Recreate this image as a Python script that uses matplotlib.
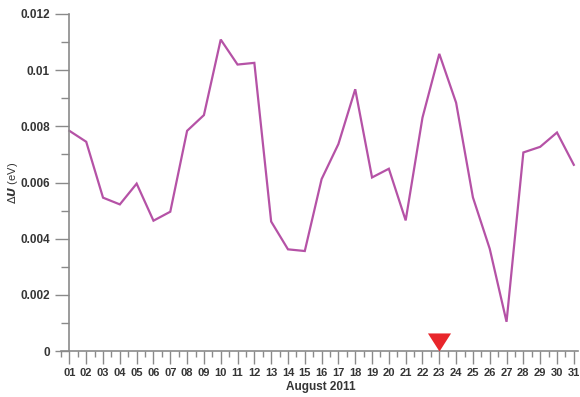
import matplotlib
matplotlib.use("Agg")
from matplotlib import pyplot as plt
from matplotlib.ticker import MultipleLocator
from matplotlib.path import Path

plt.rcParams['font.family'] = ['Liberation Sans', 'DejaVu Sans']

days = list(range(1, 32))
day_labels = ['%02d' % d for d in days]
delta_u = [0.00784, 0.00745, 0.00546, 0.00522, 0.00596, 0.00464, 0.00496, 0.00784,
           0.00840, 0.01109, 0.01020, 0.01026, 0.00461, 0.00362, 0.00356, 0.00612,
           0.00737, 0.00932, 0.00618, 0.00649, 0.00465, 0.00831, 0.01058, 0.00884,
           0.00547, 0.00364, 0.00104, 0.00707, 0.00727, 0.00778, 0.00663]
event_day = 23
y_ticks = [0, 0.002, 0.004, 0.006, 0.008, 0.01, 0.012]
y_tick_labels = ['0', '0.002', '0.004', '0.006', '0.008', '0.01', '0.012']

axis_col = '#8a8a8a'
text_col = '#353535'

fig = plt.figure(figsize=(5.8, 3.97), dpi=100)
ax = fig.add_axes([61 / 580, 46 / 397, 517 / 580, 337 / 397])

ax.plot(days, delta_u, color='#b552a6', lw=1.6, solid_joinstyle='miter')

# downward triangle whose tip rests on the time axis
tri = Path([(-0.64, 1.0), (0.64, 1.0), (0.0, 0.0), (-0.64, 1.0)],
           [Path.MOVETO, Path.LINETO, Path.LINETO, Path.CLOSEPOLY])
ax.plot([event_day], [0], marker=tri, markersize=26, color='#e8262b',
        markeredgewidth=0, linestyle='none', clip_on=False, zorder=5)

ax.set_xlim(0.5, 31.25)
ax.set_ylim(0, 0.012)

for side in ['top', 'right']:
    ax.spines[side].set_visible(False)
for side in ['left', 'bottom']:
    ax.spines[side].set_color(axis_col)
    ax.spines[side].set_linewidth(1.2)
ax.spines['left'].set_position(('data', 1))

ax.set_xticks(days)
ax.set_xticklabels(day_labels)
ax.xaxis.set_minor_locator(MultipleLocator(0.5))
ax.set_yticks(y_ticks)
ax.set_yticklabels(y_tick_labels)
ax.yaxis.set_minor_locator(MultipleLocator(0.001))

ax.tick_params(axis='both', which='both', colors=axis_col, labelcolor=text_col,
               width=1.0)
ax.tick_params(axis='x', which='major', length=9, pad=3, labelsize=8)
ax.tick_params(axis='x', which='minor', length=4)
ax.tick_params(axis='y', which='major', length=10, pad=4, labelsize=8.5)
ax.tick_params(axis='y', which='minor', length=6)
for lbl in ax.get_xticklabels() + ax.get_yticklabels():
    lbl.set_fontweight('bold')

ax.set_xlabel('August 2011', fontsize=8.5, fontweight='bold', color=text_col)
ax.xaxis.set_label_coords(0.503, -0.09)
ax.set_ylabel(r'$\Delta\boldsymbol{U}$ (eV)', fontsize=8, color=text_col)
ax.yaxis.set_label_coords(-0.08, 0.5)

fig.savefig('out.png', dpi=100)
